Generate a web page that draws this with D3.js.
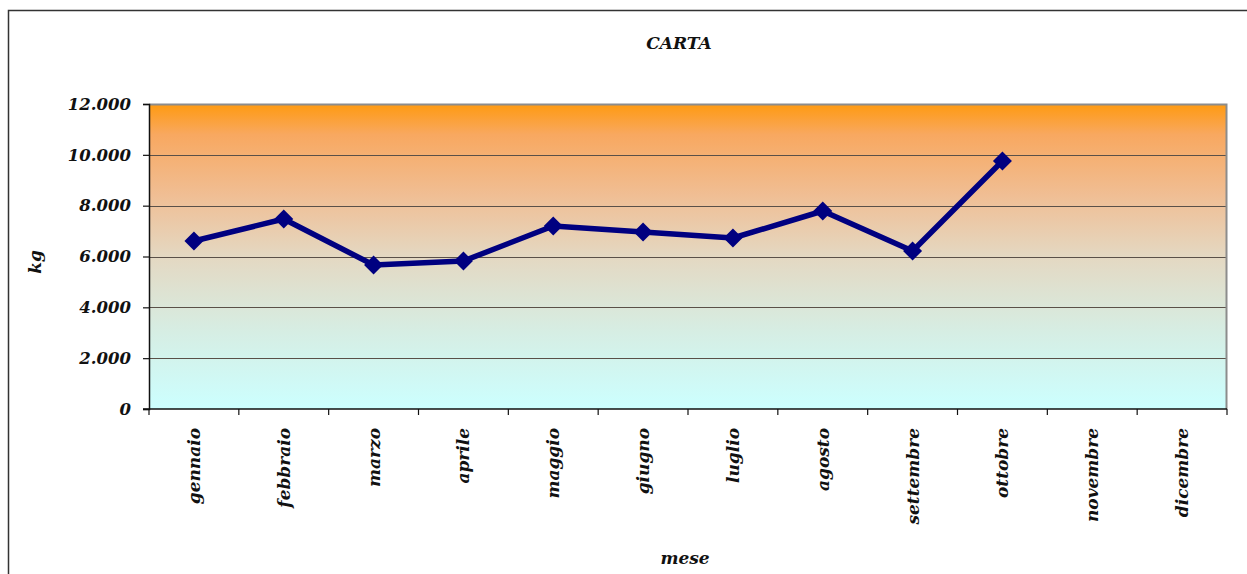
<!DOCTYPE html>
<html lang="it">
<head>
  <meta charset="UTF-8">
  <title>CARTA</title>
  <script src="https://d3js.org/d3.v7.min.js"></script>
  <style>
    body { margin: 0; background: #fff; }
    text { font-family: "DejaVu Serif", serif; font-weight: bold; font-style: italic; fill: #111; }
    .grid line { stroke: #5a5048; stroke-width: 1.2; }
  </style>
</head>
<body>
  <div id="chart"></div>

  <script>
    const months = ["gennaio", "febbraio", "marzo", "aprile", "maggio", "giugno",
                    "luglio", "agosto", "settembre", "ottobre", "novembre", "dicembre"];
    const kg = [6610, 7475, 5666, 5823, 7200, 6964, 6728, 7790, 6216, 9757, null, null];
    const yTicks = [0, 2000, 4000, 6000, 8000, 10000, 12000];

    const W = 1247, H = 574;
    const margin = { top: 104, right: 20, bottom: 165, left: 149 },
          width = 1227 - margin.left,
          height = 409 - margin.top;

    const root = d3.select("#chart")
      .append("svg")
      .attr("width", W)
      .attr("height", H);

    // outer frame
    root.append("rect")
      .attr("x", 8.5).attr("y", 10.5)
      .attr("width", W + 20).attr("height", H + 20)
      .attr("fill", "none").attr("stroke", "#333").attr("stroke-width", 1.5);

    const defs = root.append("defs");
    const grad = defs.append("linearGradient")
      .attr("id", "bg").attr("x1", 0).attr("y1", 0).attr("x2", 0).attr("y2", 1);
    [["0%", "#ff9a10"], ["10%", "#f8a860"], ["30%", "#f0be94"],
     ["50%", "#e4d8c2"], ["75%", "#d6eee4"], ["100%", "#ccffff"]]
      .forEach(s => grad.append("stop").attr("offset", s[0]).attr("stop-color", s[1]));

    const svg = root.append("g")
      .attr("transform", `translate(${margin.left},${margin.top})`);

    const x = d3.scaleBand()
      .domain(months)
      .range([0, width]);

    const y = d3.scaleLinear()
      .domain([0, 12000])
      .range([height, 0]);

    svg.append("rect")
      .attr("width", width).attr("height", height)
      .attr("fill", "url(#bg)");

    // gridlines
    svg.append("g").attr("class", "grid")
      .selectAll("line")
      .data(yTicks.filter(d => d > 0 && d < 12000))
      .enter().append("line")
      .attr("x1", 0).attr("x2", width)
      .attr("y1", d => Math.round(y(d)) + 0.5).attr("y2", d => Math.round(y(d)) + 0.5);

    // top and right border (grey)
    svg.append("path")
      .attr("d", `M0,0.5H${width - 0.5}V${height}`)
      .attr("fill", "none").attr("stroke", "#8c8c8c").attr("stroke-width", 2);

    // y axis
    const yAxis = svg.append("g")
      .call(d3.axisLeft(y).tickValues(yTicks).tickSize(6).tickPadding(12)
        .tickFormat(d => d === 0 ? "0" : d3.format(",")(d).replace(",", ".")));
    yAxis.select(".domain").attr("stroke", "#111").attr("stroke-width", 1.5);
    yAxis.selectAll(".tick line").attr("stroke", "#111").attr("stroke-width", 1.2);
    yAxis.selectAll("text").style("font-size", "16.5px").attr("fill", "#111");

    // x axis: ticks at band boundaries
    const xAxis = svg.append("g")
      .attr("transform", `translate(0,${height})`);
    xAxis.append("line")
      .attr("x1", -6).attr("x2", width)
      .attr("stroke", "#111").attr("stroke-width", 1.5);
    xAxis.selectAll(".xt")
      .data(months.concat(["end"]))
      .enter().append("line")
      .attr("x1", (d, i) => i < 12 ? x(d) : width)
      .attr("x2", (d, i) => i < 12 ? x(d) : width)
      .attr("y1", 0).attr("y2", 6)
      .attr("stroke", "#111").attr("stroke-width", 1.2);
    xAxis.selectAll(".xl")
      .data(months)
      .enter().append("text")
      .attr("transform", d => `translate(${x(d) + x.bandwidth() / 2 + 6},19) rotate(-90)`)
      .attr("text-anchor", "end")
      .style("font-size", "17px")
      .text(d => d);

    // line
    const pts = months.map((m, i) => ({ m, v: kg[i] })).filter(d => d.v != null);
    const line = d3.line()
      .x(d => x(d.m) + x.bandwidth() / 2)
      .y(d => y(d.v));
    svg.append("path")
      .datum(pts)
      .attr("d", line)
      .attr("fill", "none")
      .attr("stroke", "#000080")
      .attr("stroke-width", 5.5)
      .attr("stroke-linejoin", "round");

    svg.selectAll(".pt")
      .data(pts)
      .enter().append("path")
      .attr("transform", d => `translate(${x(d.m) + x.bandwidth() / 2},${y(d.v)})`)
      .attr("d", "M0,-9.5L9.5,0L0,9.5L-9.5,0Z")
      .attr("fill", "#000080");

    // titles
    root.append("text")
      .attr("x", 679).attr("y", 49)
      .attr("text-anchor", "middle")
      .style("font-size", "17px")
      .text("CARTA");

    root.append("text")
      .attr("transform", "translate(41,262) rotate(-90)")
      .attr("text-anchor", "middle")
      .style("font-size", "17px")
      .text("kg");

    root.append("text")
      .attr("x", 685).attr("y", 564)
      .attr("text-anchor", "middle")
      .style("font-size", "17px")
      .text("mese");
  </script>
</body>
</html>
